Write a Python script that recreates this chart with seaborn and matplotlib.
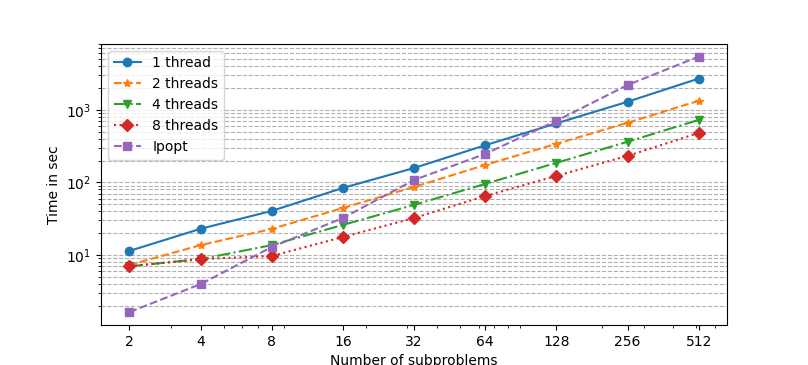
import matplotlib
matplotlib.use("Agg")
import matplotlib.pyplot as plt
import matplotlib.ticker as mticker
import seaborn as sns

# number of subproblems on the x axis
subproblems = [2, 4, 8, 16, 32, 64, 128, 256, 512]

# run times in seconds
t_1_thread = [11.4, 23.0, 40.5, 84, 158, 325, 650, 1290, 2690]
t_2_threads = [7.3, 13.7, 22.9, 44.5, 86.6, 174, 340, 662, 1330]
t_4_threads = [7.0, 8.8, 13.7, 26, 49, 95.5, 186, 363, 726]
t_8_threads = [7.0, 8.8, 9.7, 17.7, 32.4, 65, 123, 232, 480]
t_ipopt = [1.64, 3.98, 12.9, 32.4, 108, 247, 705, 2190, 5400]

series = [
    ("1 thread", t_1_thread, "o", "-"),
    ("2 threads", t_2_threads, "*", "--"),
    ("4 threads", t_4_threads, "v", "-."),
    ("8 threads", t_8_threads, "D", ":"),
    ("Ipopt", t_ipopt, "s", "--"),
]

fig, ax = plt.subplots(figsize=(8.08, 3.65), dpi=100)

for i, (label, values, marker, ls) in enumerate(series):
    col = f"C{i}"
    sns.lineplot(x=subproblems, y=values, marker=marker, linestyle=ls,
                 color=col, markeredgecolor=col, markersize=6,
                 markeredgewidth=1, label=label, ax=ax)

ax.set_xscale("log")
ax.set_yscale("log")
ax.set_xticks(subproblems)
ax.set_xticklabels([str(s) for s in subproblems])
ax.xaxis.set_minor_formatter(mticker.NullFormatter())

ax.yaxis.grid(True, which="both", linestyle="--", color="#b0b0b0")
ax.set_axisbelow(True)

ax.set_xlabel("Number of subproblems")
ax.set_ylabel("Time in sec")
ax.legend(loc="upper left")

plt.savefig("out.png", dpi=100)
